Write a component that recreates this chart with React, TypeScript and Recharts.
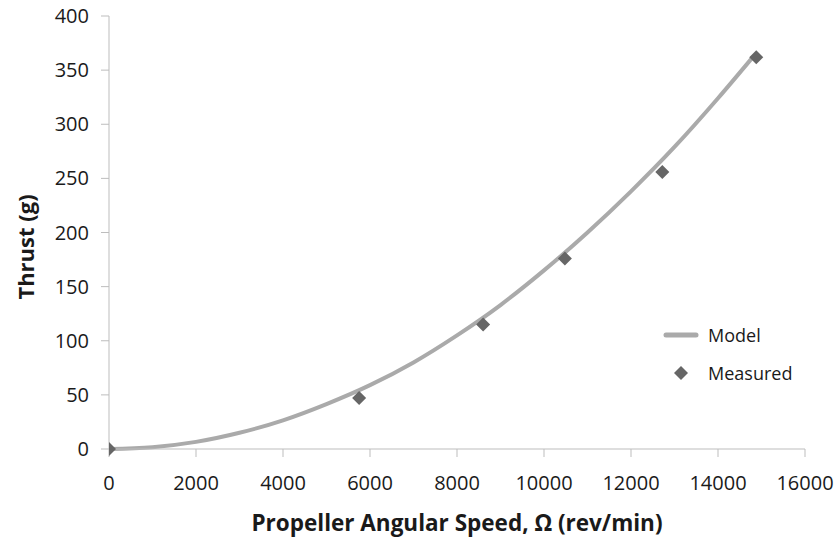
import { ComposedChart, Line, Scatter, XAxis, YAxis } from 'recharts'

// model curve (rev/min, grams)
const modelSpeed = [0, 1000, 2000, 3000, 4000, 5000, 6000, 7000, 8000, 9000, 10000, 11000, 12000, 13000, 14000, 14800]
const modelThrust = [0, 1.7, 6.6, 15, 26.5, 41.5, 59, 80, 105, 133, 165, 200, 238, 279, 324, 362]

// measured points
const measSpeed = [0, 5750, 8600, 10480, 12720, 14880]
const measThrust = [0, 47, 115, 176, 256, 362]

const xTicks = [0, 2000, 4000, 6000, 8000, 10000, 12000, 14000, 16000]
const yTicks = [0, 50, 100, 150, 200, 250, 300, 350, 400]

const modelData = modelSpeed.map((x, i) => ({ x, model: modelThrust[i] }))
const measData = measSpeed.map((x, i) => ({ x, measured: measThrust[i] }))

const FONT = '"Open Sans", sans-serif'
const AXIS = '#bdbdbd'
const TEXT = '#1a1a1a'

function Diamond(props: any) {
  const { cx, cy } = props
  const r = 7
  return (
    <polygon
      points={`${cx},${cy - r} ${cx + r},${cy} ${cx},${cy + r} ${cx - r},${cy}`}
      fill="#666666"
    />
  )
}

function YTitle() {
  return (
    <text
      x={25}
      y={247}
      transform="rotate(-90, 25, 247)"
      textAnchor="middle"
      dominantBaseline="central"
      fill={TEXT}
      fontSize={22}
      fontWeight={700}
      fontFamily={FONT}
    >
      Thrust (g)
    </text>
  )
}

function LegendBox() {
  return (
    <div style={{ position: 'absolute', left: 660, top: 316, fontFamily: FONT, fontSize: 18, color: TEXT }}>
      <div style={{ display: 'flex', alignItems: 'center', height: 38 }}>
        <svg width={48} height={10}>
          <line x1={6} y1={5} x2={36} y2={5} stroke="#aaaaaa" strokeWidth={5} strokeLinecap="round" />
        </svg>
        <span>Model</span>
      </div>
      <div style={{ display: 'flex', alignItems: 'center', height: 38 }}>
        <svg width={48} height={16}>
          <polygon points="21,1 28,8 21,15 14,8" fill="#666666" />
        </svg>
        <span>Measured</span>
      </div>
    </div>
  )
}

export default function App() {
  return (
    <div style={{ position: 'absolute', left: 0, top: 0, width: 836, height: 537, background: '#fff' }}>
      <ComposedChart width={836} height={537} margin={{ top: 16, right: 31, bottom: 58, left: 20 }}>
        <XAxis
          type="number"
          dataKey="x"
          domain={[0, 16000]}
          ticks={xTicks}
          allowDataOverflow
          stroke={AXIS}
          tickSize={8}
          tickMargin={19}
          tick={{ fill: TEXT, fontSize: 20, fontFamily: FONT }}
          label={{
            value: 'Propeller Angular Speed, Ω (rev/min)',
            position: 'bottom',
            offset: 36,
            style: { fill: TEXT, fontSize: 22.5, fontWeight: 700, fontFamily: FONT },
          }}
        />
        <YAxis
          type="number"
          domain={[0, 400]}
          ticks={yTicks}
          width={89}
          stroke={AXIS}
          tickSize={8}
          tickMargin={12}
          tick={{ fill: TEXT, fontSize: 20, fontFamily: FONT }}
          label={<YTitle />}
        />
        <Line
          data={modelData}
          dataKey="model"
          type="monotone"
          stroke="#aaaaaa"
          strokeWidth={4}
          dot={false}
          activeDot={false}
          isAnimationActive={false}
        />
        <Scatter data={measData} dataKey="measured" shape={<Diamond />} isAnimationActive={false} />
      </ComposedChart>
      <LegendBox />
    </div>
  )
}
